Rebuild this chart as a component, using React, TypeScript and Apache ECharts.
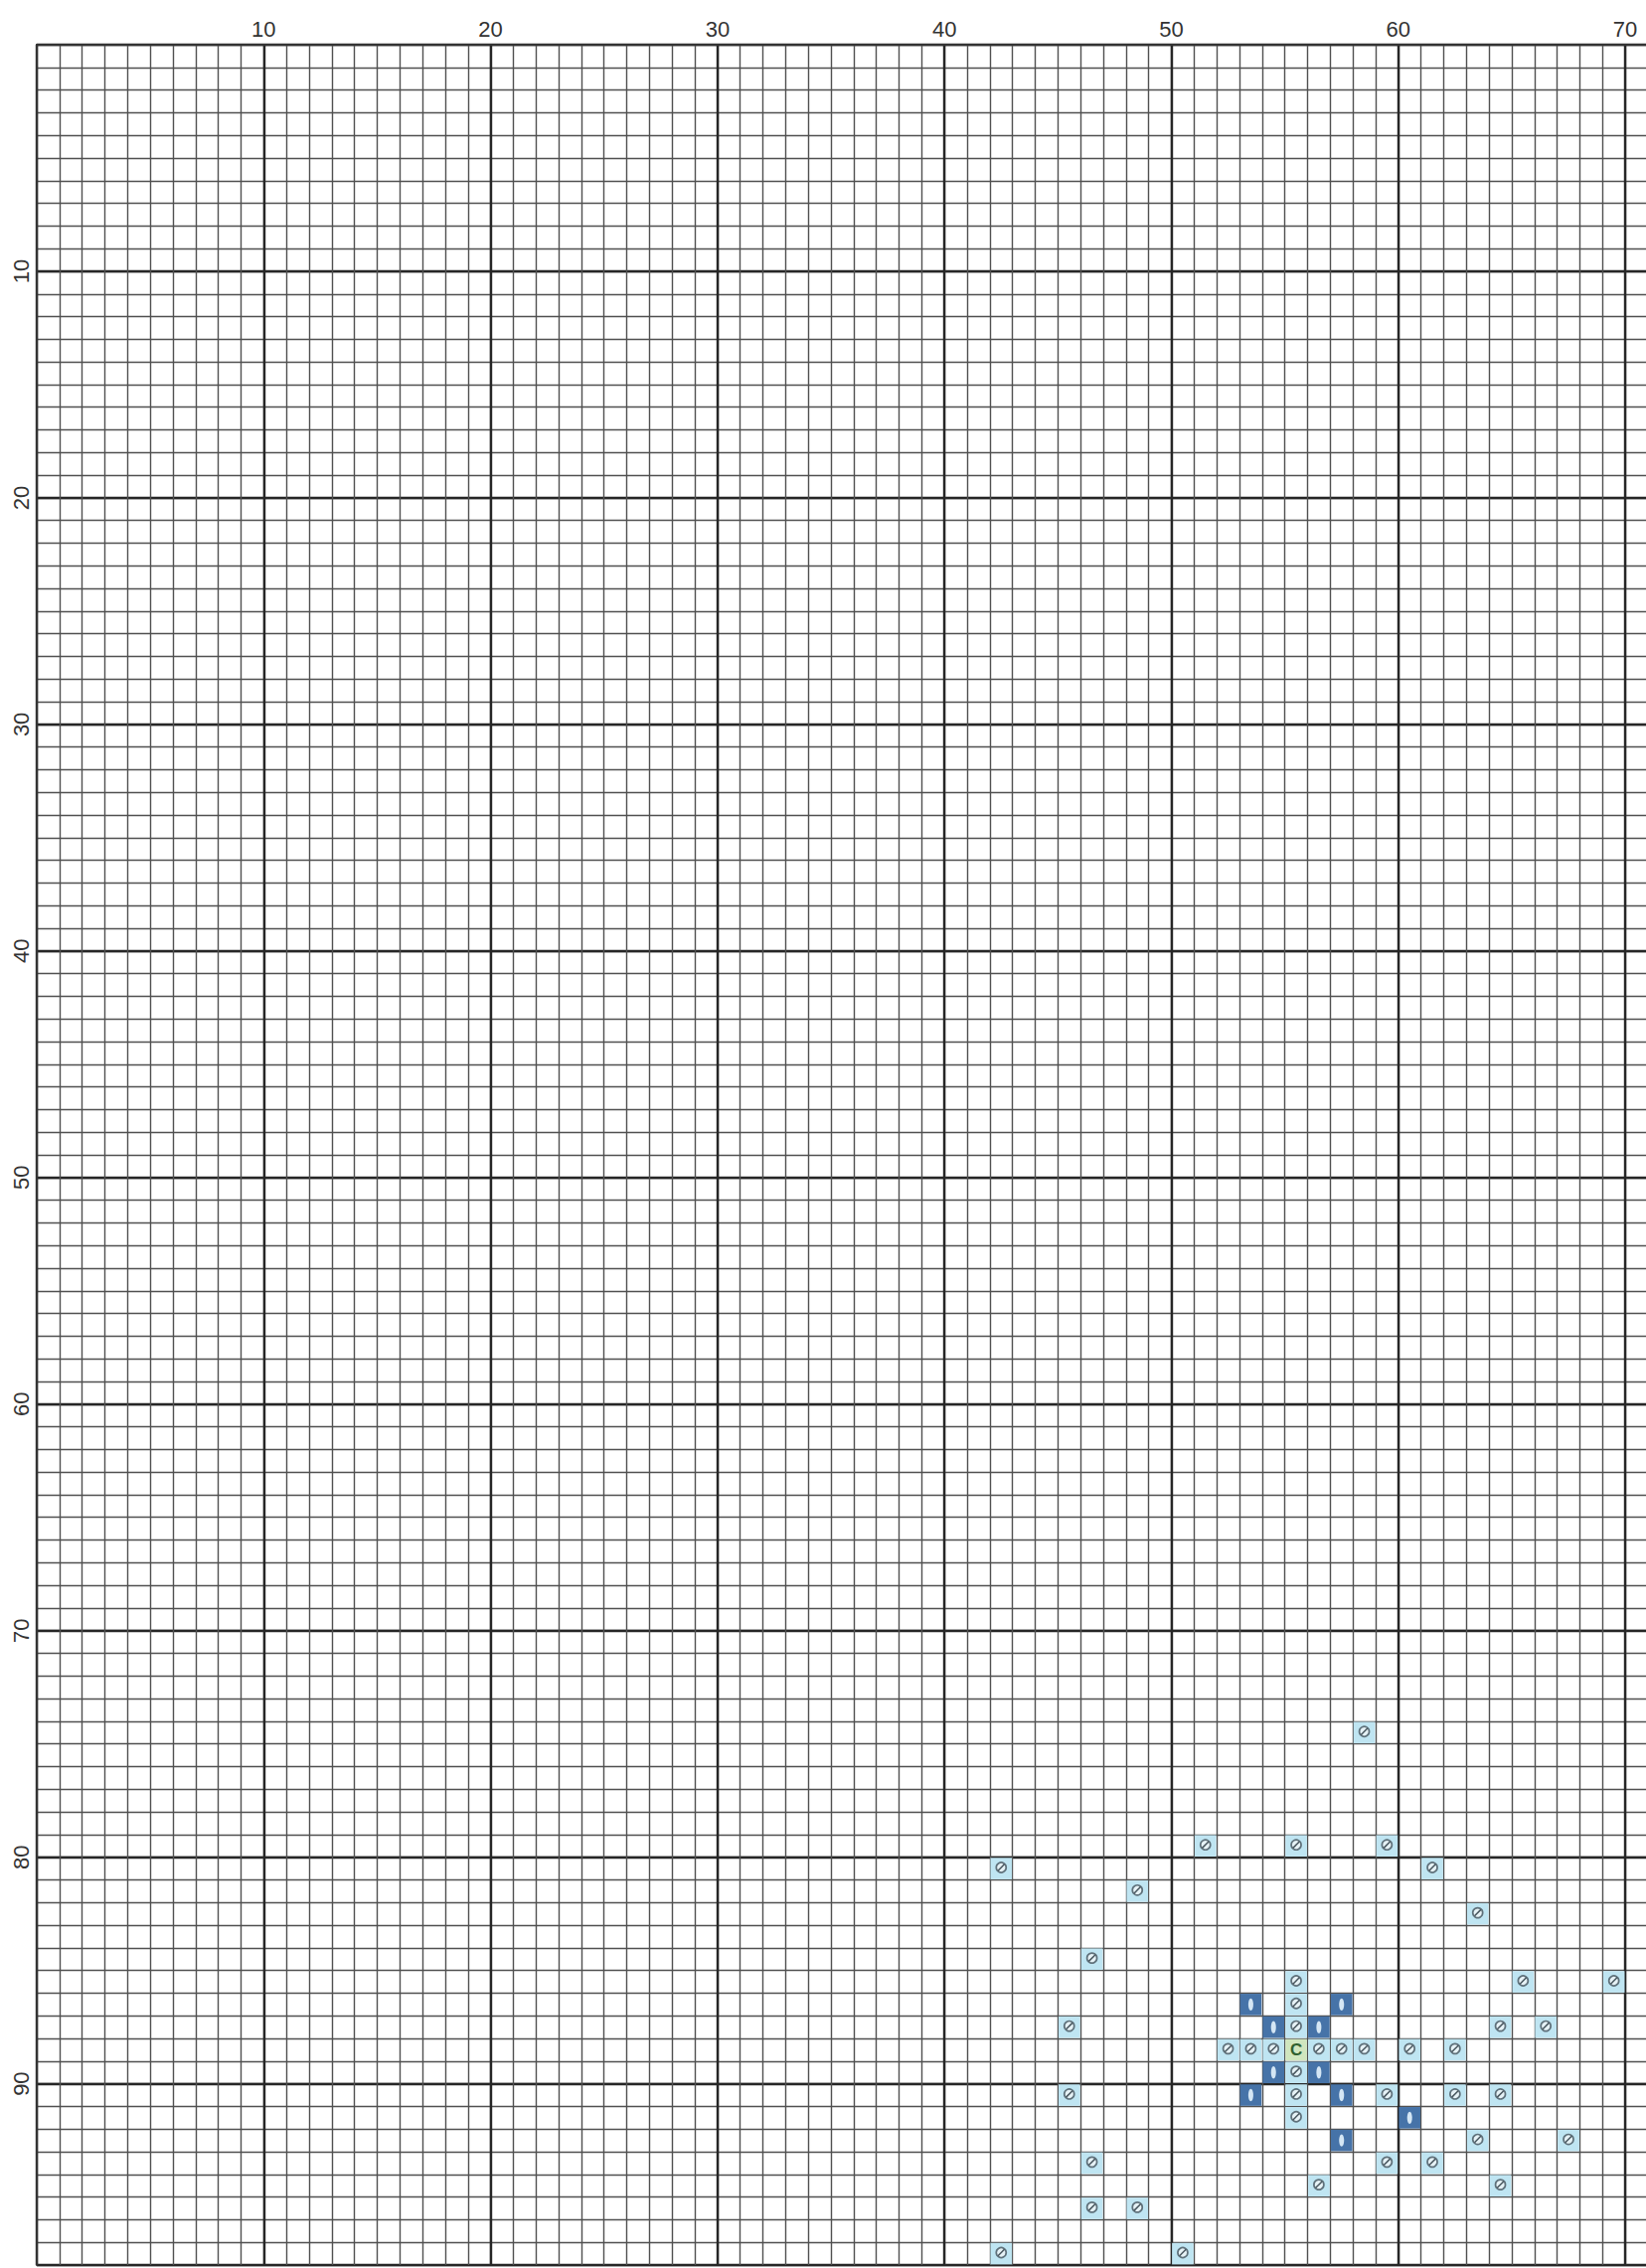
import React, { useEffect, useRef } from "react";
import * as echarts from "echarts";

// Grid extent (stitch columns / rows)
const COLS = 71;
const ROWS = 98;
const xTickLabels = [10, 20, 30, 40, 50, 60, 70];
const yTickLabels = [10, 20, 30, 40, 50, 60, 70, 80, 90];

// [column, row] of stitched cells (1-based)
const lightCells: [number, number][] = [
  [59, 75],
  [52, 80], [56, 80], [60, 80],
  [43, 81], [62, 81],
  [49, 82],
  [64, 83],
  [47, 85],
  [56, 86], [66, 86], [70, 86],
  [56, 87],
  [46, 88], [56, 88], [65, 88], [67, 88],
  [53, 89], [54, 89], [55, 89], [57, 89], [58, 89], [59, 89], [61, 89], [63, 89],
  [56, 90],
  [46, 91], [56, 91], [60, 91], [63, 91], [65, 91],
  [56, 92],
  [64, 93], [68, 93],
  [47, 94], [60, 94], [62, 94],
  [57, 95], [65, 95],
  [47, 96], [49, 96],
  [43, 98], [51, 98],
];
const darkCells: [number, number][] = [
  [54, 87], [58, 87],
  [55, 88], [57, 88],
  [55, 90], [57, 90],
  [54, 91], [58, 91],
  [61, 92],
  [58, 93],
];
const centerCells: [number, number][] = [[56, 89]];

const LIGHT_FILL = "#bfe5f2";
const DARK_FILL = "#4673a8";
const GREEN_FILL = "#d0e6be";

export default function App() {
  const ref = useRef<HTMLDivElement>(null);
  useEffect(() => {
    if (!ref.current) return;
    const chart = echarts.init(ref.current, undefined, { renderer: "svg" });
    const data = [
      ...lightCells.map(([c, r]) => [c, r, 0]),
      ...darkCells.map(([c, r]) => [c, r, 1]),
      ...centerCells.map(([c, r]) => [c, r, 2]),
    ];
    const minorLine = { show: true, lineStyle: { color: "#505050", width: 1.4 } };
    const majorLine = { show: true, lineStyle: { color: "#262626", width: 2.4 } };
    const labelFont = { fontFamily: "Liberation Sans, Arial, sans-serif", fontSize: 22, color: "#333" };
    chart.setOption({
      animation: false,
      backgroundColor: "#fff",
      grid: { left: 37, top: 45, width: COLS * 22.83, height: ROWS * 22.8 },
      xAxis: [
        {
          type: "value", min: 0, max: COLS, interval: 1, position: "bottom",
          axisLabel: { show: false }, axisTick: { show: false }, axisLine: { show: false },
          splitLine: minorLine,
        },
        {
          type: "value", min: 0, max: COLS, interval: 10, position: "top",
          axisLabel: {
            show: true, margin: 5, ...labelFont,
            formatter: (v: number) => (xTickLabels.includes(v) ? String(v) : ""),
          },
          axisTick: { show: false },
          axisLine: { show: true, lineStyle: { color: "#333", width: 2 } },
          splitLine: majorLine,
        },
      ],
      yAxis: [
        {
          type: "value", min: 0, max: ROWS, interval: 1, inverse: true, position: "right",
          axisLabel: { show: false }, axisTick: { show: false }, axisLine: { show: false },
          splitLine: minorLine,
        },
        {
          type: "value", min: 0, max: ROWS, interval: 10, inverse: true, position: "left",
          axisLabel: {
            show: true, rotate: 90, margin: 5, ...labelFont,
            formatter: (v: number) => (yTickLabels.includes(v) ? String(v) : ""),
          },
          axisTick: { show: false },
          axisLine: { show: true, lineStyle: { color: "#333", width: 2 } },
          splitLine: majorLine,
        },
      ],
      series: [
        {
          type: "custom",
          xAxisIndex: 0,
          yAxisIndex: 0,
          data,
          clip: false,
          renderItem: (params: any, api: any) => {
            const c = api.value(0);
            const r = api.value(1);
            const t = api.value(2);
            const p0 = api.coord([c - 1, r - 1]);
            const p1 = api.coord([c, r]);
            const x = p0[0] + 0.6, y = p0[1] + 0.6;
            const w = p1[0] - p0[0] - 1.2, h = p1[1] - p0[1] - 1.2;
            const cx = x + w / 2, cy = y + h * 0.45;
            const fill = t === 0 ? LIGHT_FILL : t === 1 ? DARK_FILL : GREEN_FILL;
            const children: any[] = [
              { type: "rect", shape: { x, y, width: w, height: h }, style: { fill } },
            ];
            if (t === 0) {
              children.push({
                type: "circle", shape: { cx, cy, r: 5 },
                style: { fill: "#e6f2f6", stroke: "#5f717b", lineWidth: 1.7 },
              });
              children.push({
                type: "line", shape: { x1: cx - 3.2, y1: cy + 3.2, x2: cx + 3.2, y2: cy - 3.2 },
                style: { stroke: "#48565e", lineWidth: 1.5 },
              });
            } else if (t === 1) {
              children.push({
                type: "ellipse", shape: { cx, cy: y + h / 2, rx: 2.5, ry: 6.2 },
                style: { fill: "#d4e6f4" },
              });
            } else {
              children.push({
                type: "text",
                style: {
                  text: "C", x: cx, y: y + h / 2, align: "center", verticalAlign: "middle",
                  fontSize: 17, fontWeight: "bold", fill: "#2f5f2f",
                  fontFamily: "Liberation Sans, Arial, sans-serif",
                },
              });
            }
            return { type: "group", children };
          },
        },
      ],
    });
    return () => chart.dispose();
  }, []);
  return (
    <div style={{ position: "absolute", left: 0, top: 0, width: 1656, height: 2282, overflow: "hidden", background: "#fff" }}>
      <div ref={ref} style={{ width: 1690, height: 2282 }} />
    </div>
  );
}
